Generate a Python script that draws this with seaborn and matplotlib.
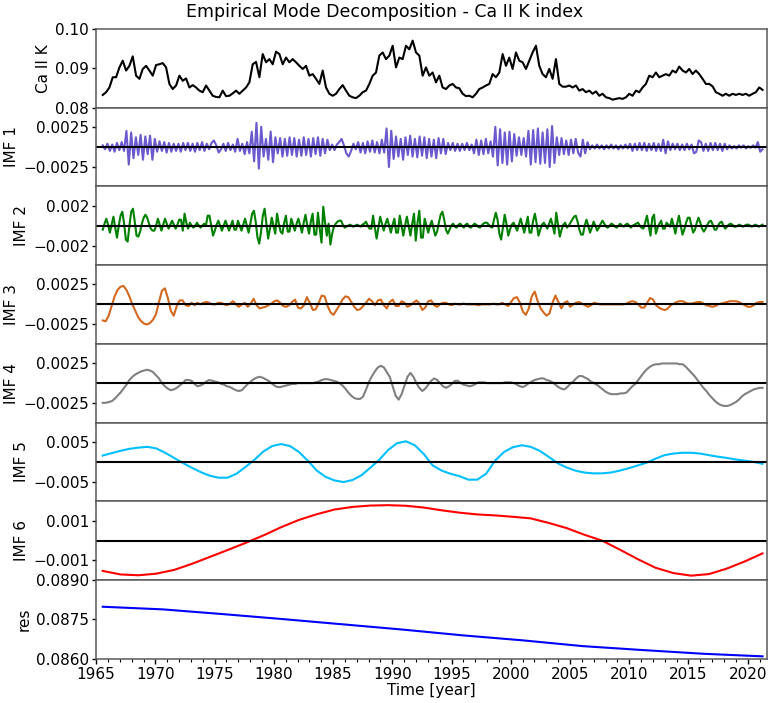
import numpy as np
import matplotlib
matplotlib.use("Agg")
import matplotlib.pyplot as plt
import seaborn as sns
from matplotlib.ticker import MultipleLocator, FixedLocator, FixedFormatter

# ---------------- data ----------------
T_START, T_END = 1965.56, 2021.25   # first / last sample time [year]

ca2k = [
    0.0832, 0.0839, 0.0851, 0.0877, 0.0877, 0.0902, 0.0919, 0.0894, 0.0906, 0.0930,
    0.0881, 0.0873, 0.0898, 0.0906, 0.0894, 0.0881, 0.0908, 0.0910, 0.0913, 0.0902,
    0.0860, 0.0847, 0.0856, 0.0881, 0.0868, 0.0874, 0.0851, 0.0857, 0.0851, 0.0843,
    0.0839, 0.0856, 0.0843, 0.0830, 0.0827, 0.0826, 0.0843, 0.0829, 0.0830, 0.0836,
    0.0843, 0.0835, 0.0843, 0.0851, 0.0864, 0.0910, 0.0916, 0.0877, 0.0936, 0.0915,
    0.0923, 0.0910, 0.0942, 0.0936, 0.0910, 0.0927, 0.0915, 0.0923, 0.0915, 0.0906,
    0.0898, 0.0906, 0.0881, 0.0885, 0.0873, 0.0860, 0.0894, 0.0851, 0.0835, 0.0830,
    0.0835, 0.0847, 0.0857, 0.0843, 0.0830, 0.0826, 0.0824, 0.0830, 0.0839, 0.0843,
    0.0860, 0.0881, 0.0889, 0.0932, 0.0940, 0.0923, 0.0932, 0.0957, 0.0902, 0.0927,
    0.0923, 0.0957, 0.0948, 0.0970, 0.0940, 0.0932, 0.0881, 0.0902, 0.0881, 0.0889,
    0.0864, 0.0881, 0.0851, 0.0847, 0.0856, 0.0860, 0.0851, 0.0849, 0.0835, 0.0829,
    0.0830, 0.0826, 0.0835, 0.0847, 0.0851, 0.0856, 0.0860, 0.0885, 0.0877, 0.0889,
    0.0936, 0.0906, 0.0927, 0.0898, 0.0940, 0.0919, 0.0915, 0.0898, 0.0919, 0.0940,
    0.0957, 0.0906, 0.0885, 0.0877, 0.0898, 0.0873, 0.0923, 0.0860, 0.0853, 0.0853,
    0.0856, 0.0851, 0.0856, 0.0843, 0.0847, 0.0839, 0.0843, 0.0835, 0.0841, 0.0830,
    0.0835, 0.0826, 0.0824, 0.0820, 0.0822, 0.0824, 0.0822, 0.0826, 0.0835, 0.0830,
    0.0843, 0.0839, 0.0851, 0.0860, 0.0881, 0.0877, 0.0889, 0.0877, 0.0881, 0.0885,
    0.0881, 0.0894, 0.0889, 0.0904, 0.0894, 0.0889, 0.0898, 0.0885, 0.0894, 0.0885,
    0.0873, 0.0860, 0.0860, 0.0854, 0.0839, 0.0835, 0.0830, 0.0835, 0.0830, 0.0835,
    0.0832, 0.0835, 0.0832, 0.0835, 0.0830, 0.0835, 0.0839, 0.0851, 0.0845,
]

# IMF values below are in units of 1e-4
imf1_e4 = [
    2, -3, 4, -5, 3, -6, 5, -4, 6, -5,
    20, -22, 18,
    -14, 12, -10, 15, -16, 13, -9, 14, -16, 10,
    -6, 7, -5, 6, -7, 5, -6, 4,
    -5, 4, -6, 5, -4, 5, -5, 4, -6, 5, -4, 6, -5, 4, -3, 5,
    8, 2, -7,
    -3, 4, -5, 5, -4, 3, -6, 10, -5, 4, -9, 6,
    -8, 19, -18, 30, -27, 25,
    -12, 10, -16, 19, -19, 12, -8, 11,
    -12, 10, -11, 12, -10, 11, -12, 9, -11, 12, -10, 10, -12, 11, -9, 12, -11, 10, -8, 9,
    -4, 3, -4, 3, 6, 10, 2, -8, -12, -5, 4, -3,
    6, -7, 5, -8, 7, -6, 8, -7, 6, -8, 9, -7,
    23, -25, 20, -15,
    13, -12, 10, -16, 12, -10, 14, -12, 10, -13, 13, -11, 12, -14,
    10, -12, 9, -14, 11, -8, 10, -9,
    5, -4, 5, -5, 4, -5, 4, -4, 5, -4, 3,
    -8, 9, -10, 8, -9, 10, -8, 7,
    -12, 25, -23, 22, -20, 18, -22, 19, -18, 16,
    -11, 12, -10, 11, -12,
    20, -22, 21, -19, 23, -21, 18, -20, 22, -25, 26, -20, 12,
    -10, 11, -9, 8, -10, 9, -8, 10, -7, -12, 9, -8, 6,
    -3, 2, -2, 3, -2, 2, -3, 2, -2, 3, -2, 2, -3, 2, -2, 3, -2,
    4, -5, 4, -4, 5, -4, 5, -5, 4, -4, 5, -5, 4, -5,
    9, -8, 7,
    -4, 4, -3, 4, -4, 3, -4, 4, -3, 3,
    -8, -6, 8, 6,
    -5, 4, -5, 5, -4, 5, -4, 4, -5, 4, -3,
    2, -2, 1, -2, 2, -1, 2, -2, 1, -1, 2, -1,
    6, -6, -3,
]

imf2_e4 = [
    -4, 2, 7, 1, -7, 1, 9, -2, -12, 0, 10, 14, 2, -14, -16, 0, 14, 17, 4, -10,
    -11, -6, 2, 8, 11, 8, 2, -3, -5, -5, 0, 7, 1, -5, 1, 7, 2, -3, 1, 5,
    1, -3, 1, 6, 6, -5, 12, 3, -3, 3, 0, -2, 0, 3, 0, -2, 0, 2, 0, 10,
    10, 0, -10, -5, 1, 5, 0, -5, 0, 5, 0, -5, 0, 5, -4, -4, 5, 0, -5, 1,
    7, 0, -7, 2, 12, 15, 4, -12, -18, -6, 10, 17, 2, -13, -3, 8, 0, -8, 12, 2,
    -6, -8, 3, 10, -6, -6, 7, 1, -5, 2, 7, 0, -7, 3, 11, 0, -8, 4, 12, -9,
    -9, 13, -3, -17, 19, 3, -10, 2, -19, -8, -1, 2, 4, 5, 5, 1, -2, -1, 0, 1,
    0, -1, 0, 1, 0, -1, 1, 2, 4, 0, -3, -3, 10, -2, -13, -2, 9, 2, -5, 2,
    7, 0, -7, 1, 7, -7, -7, 10, 0, -10, 0, 9, 0, -10, 2, 12, -15, 3, 15, -12,
    -12, 7, 0, -7, 0, 5, -3, -10, -6, 3, 11, 14, 6, -4, -8, -4, 0, 2, -1, -2,
    1, 2, 0, -2, 1, 2, -1, -2, 0, 2, 1, -1, -2, 0, 2, 3, 3, 1, -1, -2,
    6, 13, 6, -8, -14, -2, 11, 2, -10, -4, 1, 3, -1, -5, 1, 7, 0, -7, 1, 9,
    -7, -7, 5, 12, 2, -10, -4, 1, 3, 0, -3, 2, 7, 0, -8, 13, 1, -11, -4, 1,
    3, -2, 0, 3, 6, 9, 10, 4, -4, -9, -9, 0, 6, 0, -7, -2, 4, 0, -5, -2,
    2, 5, 2, -1, -2, 0, 2, 1, -1, -2, 0, 2, 0, -1, 1, 2, 0, -2, 0, 1,
    2, 3, 0, -2, -3, 3, 10, 0, -10, 8, 11, -8, -2, 2, 5, -3, -3, 3, 1, -1,
    7, 0, -8, 2, 10, 0, -9, -4, 3, 8, 8, 0, -7, -4, 3, 8, 3, -3, -6, -3,
    1, 4, 5, 1, -4, -4, 0, 3, 4, 0, -3, -1, 1, 2, 1, -1, -1, 0, 1, 0,
    -1, 0, 1, 1, 0, -1, 0, 1, 0, -1, 0, 1,
]

imf3_e4 = [
    -20, -21, -14, -2, 10, 18, 22, 23, 18, 10, 0, -8, -16, -21, -24, -25, -23, -19, -12, 3,
    17, 20, 8, -8, -14, -2, 5, 5, -1, -2, 2, -1, 2, 0, 2, 3, 2, 0, 0, 2,
    2, 0, -1, 1, 4, 0, -3, 0, 2, -3, 1, 7, -1, -5, -4, -3, -1, 1, 4, 5,
    2, -2, -3, -1, 3, 6, -4, -5, -1, 9, 2, -7, -6, 2, 11, 10, -2, -10, -13, -7,
    -1, 6, 10, 9, 3, -3, -7, -6, -2, 2, 7, 4, -1, 5, 6, -1, -5, 3, 6, -2,
    -2, 4, 2, -3, -1, 2, 5, 1, -7, -4, 4, 5, -1, -3, 0, 2, 2, 0, -1, 1,
    0, 0, 1, 0, 0, 0, 0, -1, 0, 0, 0, 0, 1, 0, 0, 2, 0, -2, 3, 8,
    9, 2, -9, -13, -5, 10, 16, 4, -5, -10, -14, -11, 2, 11, 3, -5, 2, 4, -3, 0,
    2, 3, 1, -1, -3, -1, 2, 1, 0, 0, 0, 0, 0, 0, 0, 0, 0, 1, 3, 4,
    3, 0, -4, -4, 2, 8, 6, -1, -4, -6, -7, -5, -1, 1, 3, 4, 4, 2, 1, 1,
    2, 3, 3, 1, -1, -2, -3, -2, 0, 1, 2, 3, 4, 4, 4, 3, 1, -1, -3, -3,
    -1, 2, 3, 3,
]

imf4_e4 = [
    -25, -25, -24, -23, -20, -16, -12, -7, -2, 4, 8, 11, 13, 15, 16, 17, 16, 14, 10, 6,
    0, -4, -7, -9, -8, -6, -3, 0, 4, 4, 3, -1, -4, -3, -1, 2, 4, 3, 2, 1,
    -1, -2, -4, -5, -7, -9, -10, -9, -5, -1, 2, 5, 7, 8, 7, 5, 3, 0, -3, -5,
    -5, -4, -3, -2, -1, -1, 0, 0, 0, 0, 0, 0, 1, 2, 4, 5, 5, 4, 3, 2,
    0, -3, -7, -12, -16, -19, -20, -20, -17, -8, 2, 9, 15, 20, 22, 20, 14, 8, -4, -16,
    -21, -14, -3, 8, 13, 8, 0, -6, -10, -7, -2, 3, 6, 4, 0, -4, -6, -4, -1, 3,
    3, 0, -2, -3, -4, -3, -1, 1, 1, 1, 0, 0, 0, 0, 0, 0, 1, 1, 1, 0,
    -2, -4, -5, -3, 0, 2, 4, 5, 6, 6, 4, 3, 1, -2, -5, -7, -8, -5, -1, 2,
    6, 9, 9, 7, 5, 2, 0, -2, -5, -8, -11, -13, -14, -14, -14, -13, -13, -12, -8, -4,
    -1, 4, 9, 14, 18, 21, 23, 24, 24, 25, 25, 25, 25, 25, 25, 24, 24, 21, 17, 13,
    9, 4, -1, -6, -10, -15, -19, -23, -26, -28, -29, -29, -28, -26, -24, -21, -17, -14, -12, -10,
    -8, -7, -6, -6,
]

imf5_e4 = [
    16, 22, 28, 33, 36, 38, 34, 23, 10, -3, -15, -26, -35, -40, -40, -30, -13, 5, 26, 40,
    45, 40, 25, 3, -22, -38, -47, -51, -46, -34, -15, 5, 30, 47, 52, 42, 20, -9, -22, -30,
    -36, -45, -45, -30, 3, 25, 37, 42, 38, 28, 13, -3, -14, -22, -27, -29, -29, -27, -22, -16,
    -9, -2, 8, 17, 21, 23, 23, 21, 17, 13, 10, 6, 3, 0, -5,
]

imf6_e4 = [
    -15.4, -17.2, -17.6, -16.8, -14.9, -11.8, -8.3, -4.8, -1.2, 2.6,
    6.8, 10.5, 13.4, 15.8, 17.1, 17.8, 18.0, 17.7, 16.8, 15.4,
    14.2, 13.3, 12.8, 12.1, 11.3, 9.0, 6.4, 3.0, 0.0, -4.6,
    -9.4, -13.8, -16.5, -17.8, -17.0, -14.2, -10.6, -6.5,
]

residual = [
    0.08798, 0.08788, 0.08770, 0.08751, 0.08731, 0.08711,
    0.08689, 0.08670, 0.08648, 0.08633, 0.08619, 0.08609,
]

# ---------------- panel definitions ----------------
M = "\u2212"
panels = [
    ("Ca II K", np.array(ca2k), "black", (0.080, 0.100),
     [0.08, 0.09, 0.10], ["0.08", "0.09", "0.10"], False),
    ("IMF 1", np.array(imf1_e4) * 1e-4, "slateblue", (-0.0049, 0.0049),
     [-0.0025, 0.0025], [M + "0.0025", "0.0025"], True),
    ("IMF 2", np.array(imf2_e4) * 1e-4, "green", (-0.00395, 0.00395),
     [-0.002, 0.002], [M + "0.002", "0.002"], True),
    ("IMF 3", np.array(imf3_e4) * 1e-4, "chocolate", (-0.0049, 0.0049),
     [-0.0025, 0.0025], [M + "0.0025", "0.0025"], True),
    ("IMF 4", np.array(imf4_e4) * 1e-4, "gray", (-0.005, 0.005),
     [-0.0025, 0.0025], [M + "0.0025", "0.0025"], True),
    ("IMF 5", np.array(imf5_e4) * 1e-4, "deepskyblue", (-0.00995, 0.00995),
     [-0.005, 0.005], [M + "0.005", "0.005"], True),
    ("IMF 6", np.array(imf6_e4) * 1e-4, "red", (-0.002, 0.002),
     [-0.001, 0.001], [M + "0.001", "0.001"], True),
    ("res", np.array(residual), "blue", (0.0860, 0.0890),
     [0.0860, 0.0875, 0.0890], ["0.0860", "0.0875", "0.0890"], False),
]

plt.rcParams["font.family"] = ["DejaVu Sans"]
fig, axes = plt.subplots(len(panels), 1, figsize=(7.69, 7.03), dpi=100, sharex=True)
fig.subplots_adjust(left=0.125, right=0.997, top=0.959, bottom=0.063, hspace=0)

spine_col = "#5a5a5a"
for ax, (lab, vals, col, ylim, yt, ytl, zero) in zip(axes, panels):
    t = np.linspace(T_START, T_END, len(vals))
    sns.lineplot(x=t, y=vals, ax=ax, color=col, linewidth=1.5)
    if zero:
        ax.axhline(0, color="black", linewidth=1.5)
    ax.set_ylim(*ylim)
    ax.yaxis.set_major_locator(FixedLocator(yt))
    ax.yaxis.set_major_formatter(FixedFormatter(ytl))
    ax.set_ylabel(lab, fontsize=11, labelpad=3)
    ax.xaxis.set_major_locator(MultipleLocator(5))
    ax.xaxis.set_minor_locator(MultipleLocator(1))
    ax.tick_params(axis="y", which="major", direction="out", length=3,
                   width=1, color="black", labelsize=11, pad=2)
    ax.tick_params(axis="x", which="major", direction="out", length=3.5,
                   width=1, color="black", labelsize=11, pad=2.5)
    ax.tick_params(axis="x", which="minor", direction="out", length=2,
                   width=0.8, color="black")
    for s in ax.spines.values():
        s.set_color(spine_col)
        s.set_linewidth(1.1)

axes[-1].set_xlim(1965.0, 2021.6)
axes[-1].set_xlabel("Time [year]", fontsize=11, labelpad=1)
fig.suptitle("Empirical Mode Decomposition - Ca II K index", fontsize=12.5,
             x=0.5, y=0.996, va="top")

fig.savefig("out.png", dpi=100)
